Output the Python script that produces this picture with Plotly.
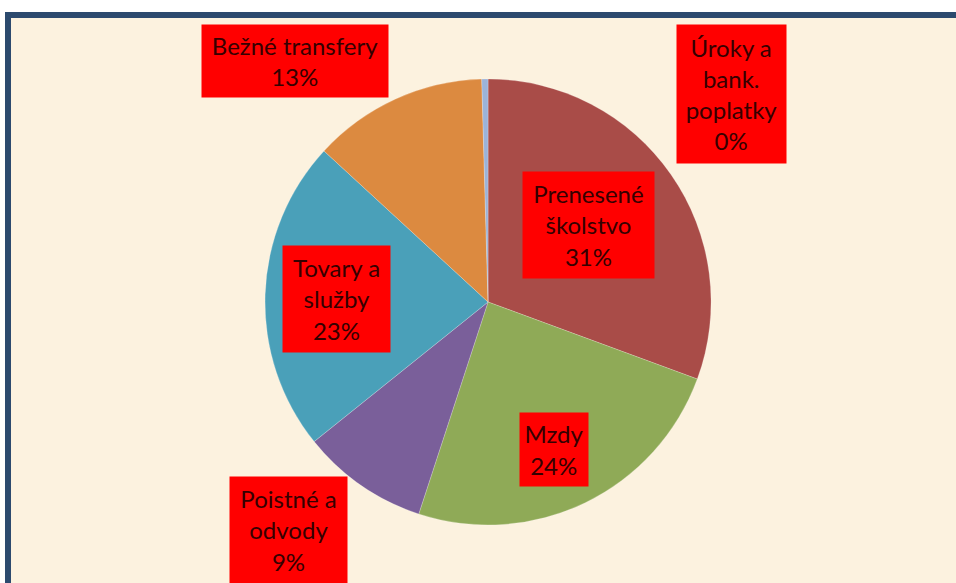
import plotly.graph_objects as go

# slices, clockwise from 12 o'clock
labels = ["Prenesené školstvo", "Mzdy", "Poistné a odvody",
          "Tovary a služby", "Bežné transfery", "Úroky a bank. poplatky"]
values = [30.6, 24.4, 9.2, 22.6, 12.7, 0.45]
# how each label is wrapped in its red box
box_text = ["Prenesené<br>školstvo", "Mzdy", "Poistné a<br>odvody",
            "Tovary a<br>služby", "Bežné transfery", "Úroky a<br>bank.<br>poplatky"]
colors = ["#A94C48", "#8FAA57", "#7A5F9A", "#4AA0B9", "#DC8A40", "#9CB3D8"]

W, H = 956, 583

fig = go.Figure(go.Pie(
    labels=labels, values=values, sort=False, direction="clockwise", rotation=0,
    marker=dict(colors=colors, line=dict(color="rgba(255,255,255,0.35)", width=0.6)),
    textinfo="none", hoverinfo="label+percent", showlegend=False,
    domain=dict(x=[0.2772, 0.7438], y=[0.0995, 0.8645]),
))

# label boxes (centre px, width, height), placed as in the original
box_pos = [(588, 225, 131, 106), (554, 449, 68, 73), (288, 530, 117, 106),
           (336, 299, 107, 106), (295, 61, 186, 72), (731, 94, 109, 138)]
total = sum(values)
for txt, v, (cx, cy, bw, bh) in zip(box_text, values, box_pos):
    fig.add_annotation(
        x=cx / W, y=1 - cy / H, xref="paper", yref="paper",
        xanchor="center", yanchor="middle",
        text=f"{txt}<br>{round(100 * v / total)}%",
        showarrow=False, bgcolor="#FF0000", width=bw - 2, height=bh - 2,
        align="center", valign="middle",
        font=dict(family="Lato, Open Sans, sans-serif", size=24, color="#350000"),
    )

# beige slide background with dark blue frame (top and left visible)
fig.add_shape(type="rect", xref="paper", yref="paper",
              x0=8 / W, x1=1.05, y0=-0.05, y1=1 - 15 / H,
              fillcolor="#FCF2DF", line=dict(width=0), layer="below")
fig.add_shape(type="line", xref="paper", yref="paper",
              x0=5 / W, x1=1.05, y0=1 - 15 / H, y1=1 - 15 / H,
              line=dict(color="#2C4A6E", width=6), layer="below")
fig.add_shape(type="line", xref="paper", yref="paper",
              x0=8 / W, x1=8 / W, y0=-0.05, y1=1 - 12 / H,
              line=dict(color="#2C4A6E", width=6), layer="below")

fig.update_layout(
    width=W, height=H, margin=dict(l=0, r=0, t=0, b=0),
    paper_bgcolor="white", plot_bgcolor="white",
)

# drop the browser's default body margin so the figure fills the window
fig.write_html("out.html", config={"displayModeBar": False},
               post_script="document.body.style.margin='0';")
